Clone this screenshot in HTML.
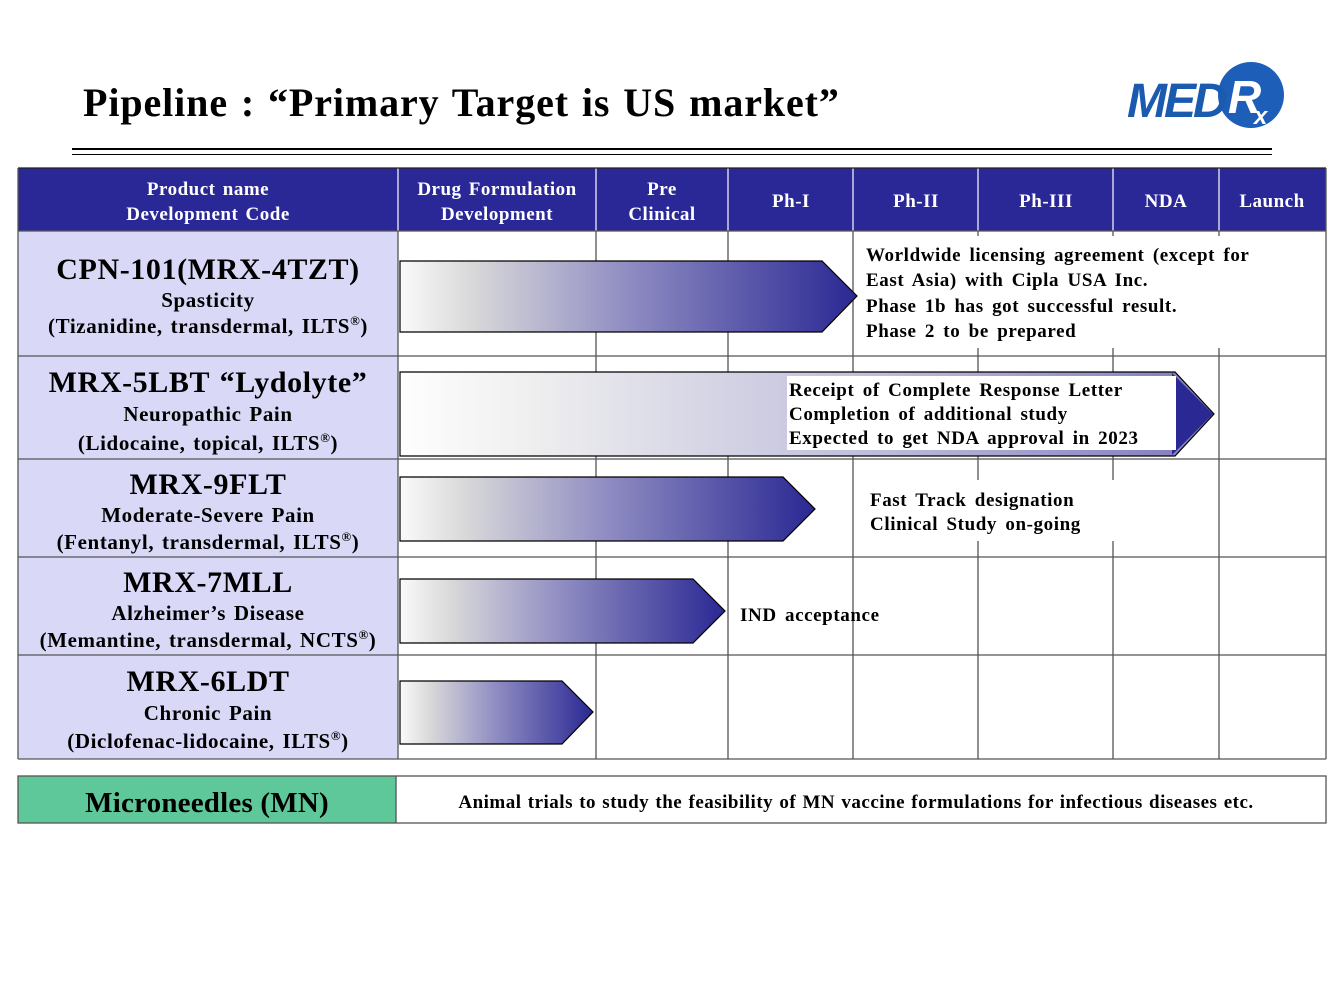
<!DOCTYPE html>
<html><head><meta charset="utf-8"><style>
html,body{margin:0;padding:0;background:#fff;}
svg{display:block;font-family:"Liberation Serif",serif;font-weight:bold;}
</style></head><body>
<svg width="1344" height="1008" viewBox="0 0 1344 1008" xmlns="http://www.w3.org/2000/svg">
<defs>
<linearGradient id="g" x1="0" x2="1" y1="0" y2="0">
<stop offset="0" stop-color="#fafafa"/><stop offset="0.15" stop-color="#dadada"/>
<stop offset="0.5" stop-color="#8f8cc2"/><stop offset="1" stop-color="#2a2893"/>
</linearGradient>
<linearGradient id="g2" x1="0" x2="1" y1="0" y2="0">
<stop offset="0" stop-color="#fefefe"/><stop offset="0.15" stop-color="#f0f0f0"/>
<stop offset="0.6" stop-color="#bcbbdb"/><stop offset="1" stop-color="#7d7abb"/>
</linearGradient>
</defs>
<text x="83" y="116" font-size="40" fill="#000" letter-spacing="0.9" word-spacing="2">Pipeline : “Primary Target is US market”</text>
<circle cx="1251" cy="95" r="33" fill="#1d5eb8"/>
<text x="1127" y="117" font-size="48" font-style="italic" fill="#1a5bb0" font-family="Liberation Sans,sans-serif" letter-spacing="-3">MED</text>
<text x="1228" y="113" font-size="46" font-style="italic" fill="#fff" font-family="Liberation Sans,sans-serif">R</text>
<text x="1254" y="124" font-size="24" font-style="italic" fill="#fff" font-family="Liberation Sans,sans-serif">x</text>
<rect x="72" y="148" width="1200" height="2" fill="#000"/>
<rect x="72" y="154" width="1200" height="1" fill="#000"/>
<rect x="18" y="168" width="1308" height="63" fill="#2a2896"/>
<rect x="18" y="231" width="380" height="528" fill="#d9d9f7"/>
<g stroke="#fff" stroke-width="1.2">
<line x1="398" y1="168" x2="398" y2="231"/><line x1="596" y1="168" x2="596" y2="231"/><line x1="728" y1="168" x2="728" y2="231"/><line x1="853" y1="168" x2="853" y2="231"/><line x1="978" y1="168" x2="978" y2="231"/><line x1="1113" y1="168" x2="1113" y2="231"/><line x1="1219" y1="168" x2="1219" y2="231"/>
</g>
<g fill="#fff" font-size="19" text-anchor="middle" letter-spacing="0.5" word-spacing="2">
<text x="208" y="195">Product name</text><text x="208" y="220">Development Code</text>
<text x="497" y="195">Drug Formulation</text><text x="497" y="220">Development</text>
<text x="662" y="195">Pre</text><text x="662" y="220">Clinical</text>
<text x="791" y="207">Ph-I</text><text x="916" y="207">Ph-II</text><text x="1046" y="207">Ph-III</text><text x="1166" y="207">NDA</text><text x="1272" y="207">Launch</text>
</g>
<g stroke="#555" stroke-width="1.3">
<line x1="18" y1="168" x2="1326" y2="168" stroke="#222"/>
<line x1="18" y1="231" x2="1326" y2="231"/><line x1="18" y1="356" x2="1326" y2="356"/><line x1="18" y1="459" x2="1326" y2="459"/><line x1="18" y1="557" x2="1326" y2="557"/><line x1="18" y1="655" x2="1326" y2="655"/><line x1="18" y1="759" x2="1326" y2="759"/>
<line x1="18" y1="168" x2="18" y2="759"/><line x1="1326" y1="168" x2="1326" y2="759"/>
<line x1="398" y1="231" x2="398" y2="759"/><line x1="596" y1="231" x2="596" y2="759"/><line x1="728" y1="231" x2="728" y2="759"/><line x1="853" y1="231" x2="853" y2="759"/><line x1="978" y1="231" x2="978" y2="759"/><line x1="1113" y1="231" x2="1113" y2="759"/><line x1="1219" y1="231" x2="1219" y2="759"/>
</g>
<rect x="855" y="236" width="469" height="112" fill="#fff"/>
<rect x="855" y="480" width="362" height="61" fill="#fff"/>
<path d="M400 261H822L857 296L822 332H400Z" fill="url(#g)" stroke="#000" stroke-width="1.2"/>
<path d="M400 372H1175L1214 414L1175 456H400Z" fill="url(#g2)" stroke="#000" stroke-width="1.2"/>
<path d="M1172 373L1213 414L1172 455Z" fill="#2a2893"/>
<rect x="787" y="376" width="389" height="74" fill="#fff"/>
<path d="M400 477H783L815 509L783 541H400Z" fill="url(#g)" stroke="#000" stroke-width="1.2"/>
<path d="M400 579H693L725 611L693 643H400Z" fill="url(#g)" stroke="#000" stroke-width="1.2"/>
<path d="M400 681H562L593 712L562 744H400Z" fill="url(#g)" stroke="#000" stroke-width="1.2"/>
<g fill="#000" text-anchor="middle" letter-spacing="0.6" word-spacing="2">
<text x="208" y="279" font-size="30">CPN-101(MRX-4TZT)</text>
<text x="208" y="307" font-size="21">Spasticity</text>
<text x="208" y="333" font-size="21">(Tizanidine, transdermal, ILTS<tspan font-size="13" dy="-8">®</tspan><tspan dy="8">)</tspan></text>
<text x="208" y="392" font-size="30">MRX-5LBT “Lydolyte”</text>
<text x="208" y="421" font-size="21">Neuropathic Pain</text>
<text x="208" y="450" font-size="21">(Lidocaine, topical, ILTS<tspan font-size="13" dy="-8">®</tspan><tspan dy="8">)</tspan></text>
<text x="208" y="494" font-size="30">MRX-9FLT</text>
<text x="208" y="522" font-size="21">Moderate-Severe Pain</text>
<text x="208" y="549" font-size="21">(Fentanyl, transdermal, ILTS<tspan font-size="13" dy="-8">®</tspan><tspan dy="8">)</tspan></text>
<text x="208" y="592" font-size="30">MRX-7MLL</text>
<text x="208" y="620" font-size="21">Alzheimer’s Disease</text>
<text x="208" y="647" font-size="21">(Memantine, transdermal, NCTS<tspan font-size="13" dy="-8">®</tspan><tspan dy="8">)</tspan></text>
<text x="208" y="691" font-size="30">MRX-6LDT</text>
<text x="208" y="720" font-size="21">Chronic Pain</text>
<text x="208" y="748" font-size="21">(Diclofenac-lidocaine, ILTS<tspan font-size="13" dy="-8">®</tspan><tspan dy="8">)</tspan></text>
</g>
<g fill="#000" font-size="19" letter-spacing="0.6" word-spacing="3">
<text x="866" y="261">Worldwide  licensing  agreement (except for</text>
<text x="866" y="286">East Asia) with  Cipla  USA Inc.</text>
<text x="866" y="312">Phase 1b has got successful result.</text>
<text x="866" y="337">Phase 2 to be prepared</text>
<text x="789" y="396">Receipt of Complete Response Letter</text>
<text x="789" y="420">Completion  of additional  study</text>
<text x="789" y="444">Expected to get NDA approval in 2023</text>
<text x="870" y="506">Fast Track designation</text>
<text x="870" y="530">Clinical Study on-going</text>
<text x="740" y="621">IND acceptance</text>
</g>
<rect x="18" y="776" width="378" height="47" fill="#5fc89a"/>
<rect x="18" y="776" width="1308" height="47" fill="none" stroke="#555" stroke-width="1.3"/>
<line x1="396" y1="776" x2="396" y2="823" stroke="#555" stroke-width="1.3"/>
<text x="207" y="812" font-size="29" text-anchor="middle" letter-spacing="0.2">Microneedles (MN)</text>
<text x="856" y="808" font-size="19" text-anchor="middle" letter-spacing="0.5" word-spacing="1">Animal trials to study the feasibility of MN vaccine formulations for infectious diseases etc.</text>
</svg>
</body></html>
